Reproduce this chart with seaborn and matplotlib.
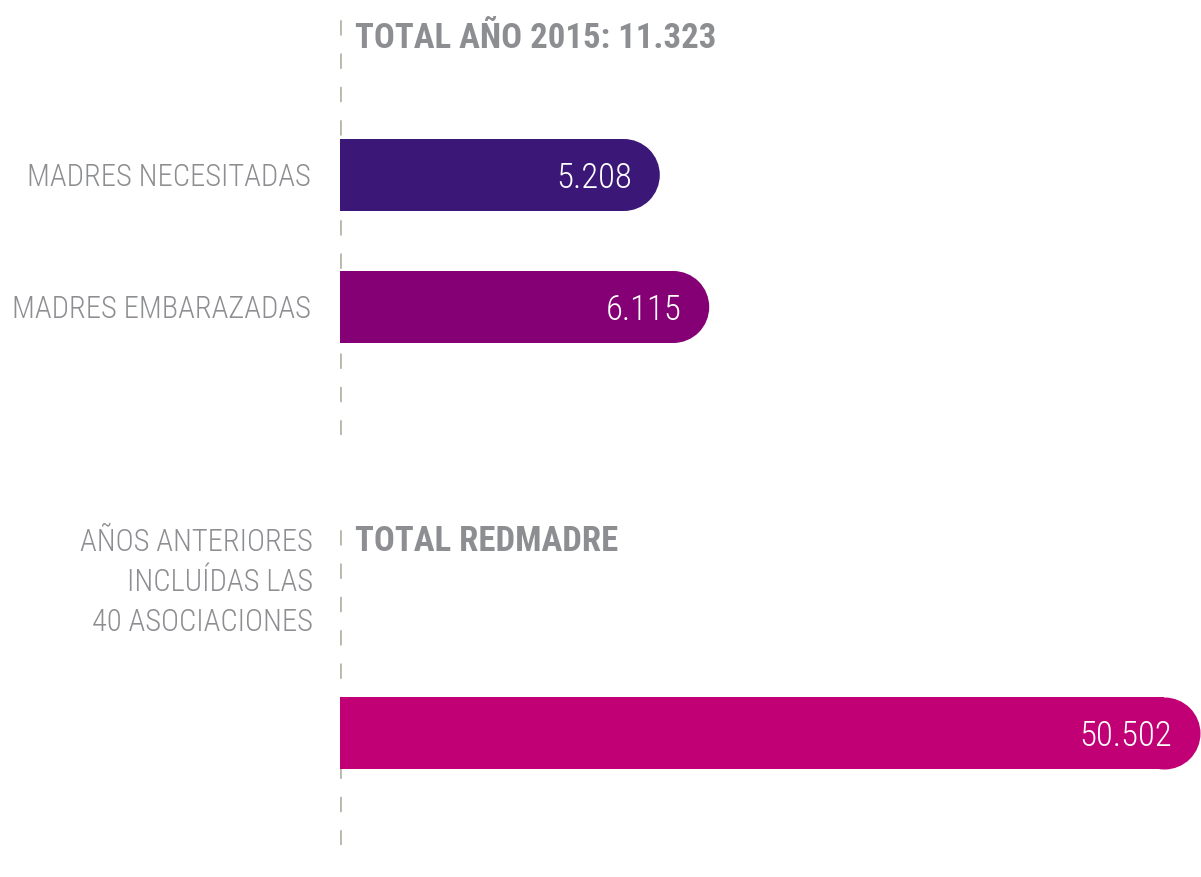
import numpy as np
import pandas as pd
import seaborn as sns
import matplotlib.pyplot as plt

# data
categories_2015 = ["MADRES NECESITADAS", "MADRES EMBARAZADAS"]
values_2015 = [5208, 6115]
colors_2015 = ["#3b1877", "#850075"]

categories_total = ["TOTAL REDMADRE"]
values_total = [50502]
colors_total = ["#c10076"]

title_top = "TOTAL AÑO 2015: 11.323"
title_bottom = "TOTAL REDMADRE"
note_bottom = ["AÑOS ANTERIORES", "INCLUÍDAS LAS", "40 ASOCIACIONES"]


def fmt(v):
    return f"{v:,}".replace(",", ".")


sns.set_style("white")
plt.rcParams['font.family'] = ['Roboto Condensed', 'Barlow Condensed', 'DejaVu Sans']
plt.rcParams['font.weight'] = 300
plt.rcParams['lines.scale_dashes'] = False

GRAY = "#8d8e91"
DASH = "#b9b6aa"
FS_LAB = 22
FS_VAL = 25
FS_TITLE = 25
W, H = 1201, 877
fig = plt.figure(figsize=(W / 100, H / 100), dpi=100)


def px_axes(left, top, right, bottom):
    return fig.add_axes([left / W, 1 - bottom / H, (right - left) / W, (bottom - top) / H])


def round_bars(ax, vals, cols, bar_px):
    # round cap at the end of each bar, same colour
    size = (bar_px * 72 / 100) ** 2
    ax.scatter(vals, np.arange(len(vals)), s=size, c=cols, marker='o',
               linewidths=0, zorder=3)


def value_labels(ax, vals):
    for i, v in enumerate(vals):
        ax.annotate(fmt(v), xy=(v, i), xytext=(8, 0), textcoords='offset pixels',
                    ha='right', va='center_baseline', color='white', fontsize=FS_VAL,
                    fontweight=300, zorder=4)


def clean(ax):
    sns.despine(ax=ax, left=True, bottom=True, right=True, top=True)
    ax.set_xticks([])
    ax.set_xlabel("")
    ax.set_ylabel("")
    ax.axvline(0, color=DASH, lw=2, linestyle=(0, (11, 13)), zorder=1)
    ax.patch.set_alpha(0)


# top block
ax1 = px_axes(340, 15, 1201, 435)
df1 = pd.DataFrame({"cat": categories_2015, "val": values_2015})
sns.barplot(df1, x="val", y="cat", hue="cat", palette=colors_2015, saturation=1,
            width=72 / 132, linewidth=0, legend=False, ax=ax1, zorder=2)
ax1.set_xlim(0, 15800)
ax1.set_ylim(1 + 128 / 132, -160 / 132)
round_bars(ax1, values_2015, colors_2015, 72)
value_labels(ax1, values_2015)
clean(ax1)
ax1.tick_params(axis='y', length=0, pad=21, labelsize=FS_LAB, labelcolor=GRAY)
for t in ax1.get_yticklabels():
    t.set_fontweight(300)
    t.set_verticalalignment('center_baseline')
ax1.text(15 / 861, 1 - 33 / 420, title_top, transform=ax1.transAxes, ha='left', va='baseline',
         fontsize=FS_TITLE, fontweight='bold', color=GRAY)

# bottom block
ax2 = px_axes(340, 525, 1201, 845)
df2 = pd.DataFrame({"cat": categories_total, "val": values_total})
sns.barplot(df2, x="val", y="cat", hue="cat", palette=colors_total, saturation=1,
            width=0.6, linewidth=0, legend=False, ax=ax2, zorder=2)
ax2.set_xlim(0, 52770)
ax2.set_ylim(112 / 120, -208 / 120)
round_bars(ax2, values_total, colors_total, 72)
value_labels(ax2, values_total)
clean(ax2)
ax2.set_yticks([])
ax2.text(15 / 861, 1 - 26 / 320, title_bottom, transform=ax2.transAxes, ha='left', va='baseline',
         fontsize=FS_TITLE, fontweight='bold', color=GRAY)

for k, line in enumerate(note_bottom):
    fig.text(313 / W, 1 - (551 + 40 * k) / H, line, ha='right', va='baseline', fontsize=FS_LAB,
             fontweight=300, color=GRAY)

fig.savefig("out.png", dpi=100)
